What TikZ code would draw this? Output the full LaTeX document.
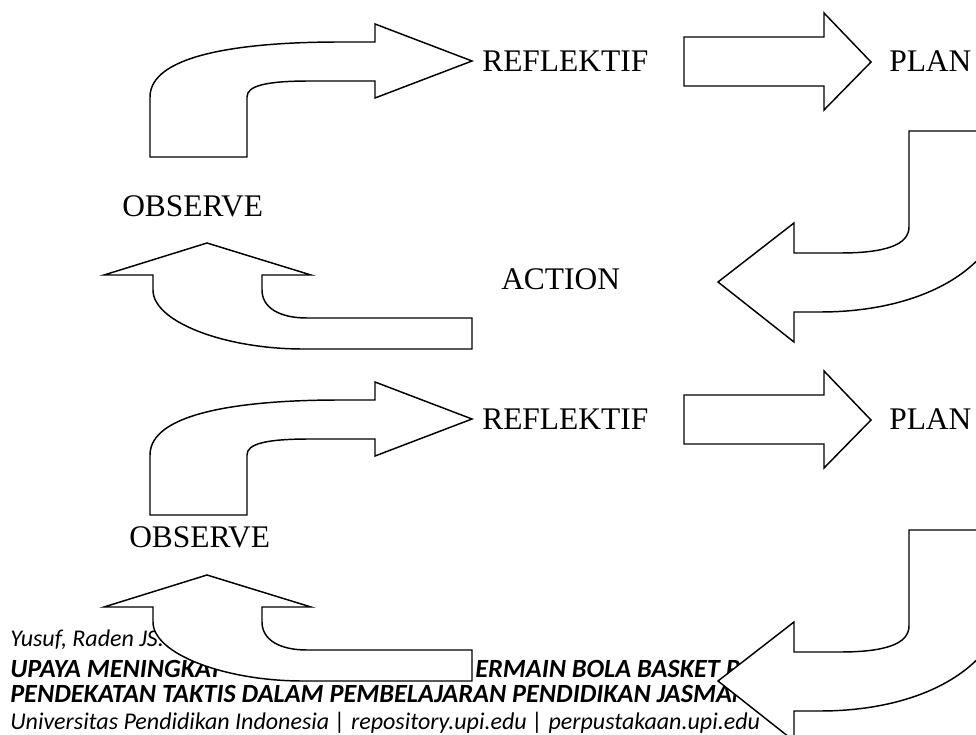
\documentclass[tikz,border=0pt]{standalone}
\usepackage{fontspec}
\setmainfont{Liberation Serif}
\newfontfamily\footfont{Carlito}
\usetikzlibrary{positioning}

\begin{document}
\begin{tikzpicture}[
    x=0.75pt, y=-0.75pt,
    blockarrow/.style={draw, fill=white, line width=1.1pt, line join=miter},
    steplabel/.style={anchor=base west, inner sep=0pt, font=\fontsize{23.6}{28}\selectfont},
    footline/.style={anchor=base west, inner sep=0pt, font=\footfont\fontsize{18}{21}\selectfont\itshape},
    foottitle/.style={footline, font=\footfont\fontsize{19.7}{22}\selectfont\bfseries\itshape}
]
\clip (0,0) rectangle (976,735);
\fill[white] (0,0) rectangle (976,735);

% Footer of the page (lies under the arrows)
\node[footline] (author) at (10,646) {Yusuf, Raden JS.};
\node[foottitle] (titleA) at (10,677) {UPAYA MENINGKAT};
\node[foottitle] (titleB) at (475,677) {ERMAIN BOLA BASKET P};
\node[foottitle] (titleC) at (10,702) {PENDEKATAN TAKTIS DALAM PEMBELAJARAN PENDIDIKAN JASMANI};
\node[footline] (source) at (10,729) {Universitas Pendidikan Indonesia | repository.upi.edu | perpustakaan.upi.edu};

% First cycle
\draw[blockarrow] (150,157) -- (150,97) .. controls (150,55) and (240,42) .. (340,42) -- (375,42) -- (375,24)
    -- (472,61) -- (375,98) -- (375,81) -- (310,81) .. controls (265,81) and (247,86) .. (247,97) -- (247,157) -- cycle;
\draw[blockarrow] (684,37) -- (824,37) -- (824,13) -- (871,62) -- (824,110) -- (824,86) -- (684,86) -- cycle;
\draw[blockarrow] (909,131) -- (1010,131) -- (1010,180) .. controls (1010,270) and (920,312) .. (820,312) -- (794,312)
    -- (794,342) -- (718,282) -- (794,223) -- (794,253) -- (840,253) .. controls (885,253) and (909,245) .. (909,227) -- cycle;
\draw[blockarrow] (104,275) -- (207,243) -- (311,275) -- (262,275) -- (262,290) .. controls (262,308) and (280,318) .. (307,318)
    -- (472,318) -- (472,349) -- (303,349) .. controls (225,349) and (153,322) .. (153,290) -- (153,275) -- cycle;

\node[steplabel] (reflA) at (482,71.5) {REFLEKTIF};
\node[steplabel] (planA) at (889,71.5) {PLAN};
\node[steplabel] (obsA) at (122,216) {OBSERVE};
\node[steplabel] (actA) at (501,289) {ACTION};

% Second cycle
\begin{scope}[shift={(0,358)}]
\draw[blockarrow] (150,157) -- (150,97) .. controls (150,55) and (240,42) .. (340,42) -- (375,42) -- (375,24)
    -- (472,61) -- (375,98) -- (375,81) -- (310,81) .. controls (265,81) and (247,86) .. (247,97) -- (247,157) -- cycle;
\draw[blockarrow] (684,37) -- (824,37) -- (824,13) -- (871,62) -- (824,110) -- (824,86) -- (684,86) -- cycle;
\end{scope}
\begin{scope}[shift={(0,399)}]
\draw[blockarrow] (909,131) -- (1010,131) -- (1010,180) .. controls (1010,270) and (920,312) .. (820,312) -- (794,312)
    -- (794,342) -- (718,282) -- (794,223) -- (794,253) -- (840,253) .. controls (885,253) and (909,245) .. (909,227) -- cycle;
\end{scope}
\begin{scope}[shift={(0,332)}]
\draw[blockarrow] (104,275) -- (207,243) -- (311,275) -- (262,275) -- (262,290) .. controls (262,308) and (280,318) .. (307,318)
    -- (472,318) -- (472,349) -- (303,349) .. controls (225,349) and (153,322) .. (153,290) -- (153,275) -- cycle;
\end{scope}

\node[steplabel] (reflB) at (482,429.5) {REFLEKTIF};
\node[steplabel] (planB) at (889,429.5) {PLAN};
\node[steplabel] (obsB) at (129,547) {OBSERVE};

\end{tikzpicture}
\end{document}
